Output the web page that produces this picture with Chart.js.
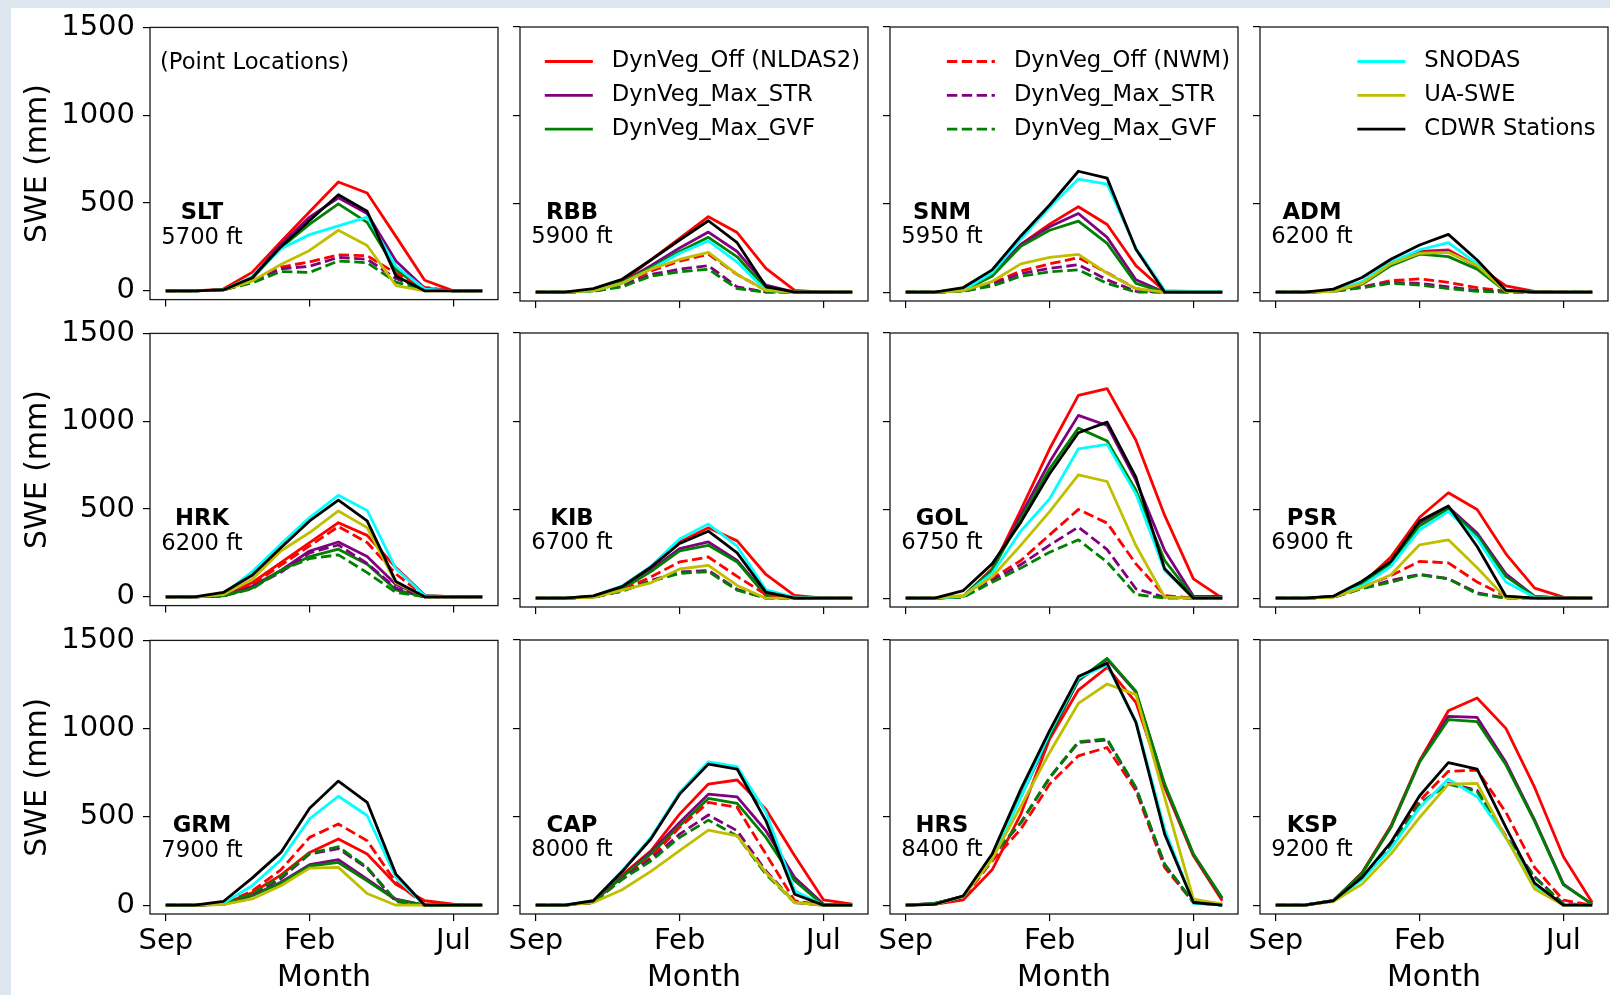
<!DOCTYPE html>
<html><head><meta charset="utf-8">
<script src="https://cdn.jsdelivr.net/npm/chart.js@4.4.1/dist/chart.umd.min.js"></script>
<style>
html,body{margin:0;padding:0;}
body{width:1610px;height:995px;background:#dde5ee;position:relative;overflow:hidden;}
#fig{position:absolute;left:11px;top:8px;width:1599px;height:987px;background:#fff;}
canvas{position:absolute;}
</style></head><body><div id="fig"></div>
<script>
const MONTHS = ['Sep','Oct','Nov','Dec','Jan','Feb','Mar','Apr','May','Jun','Jul','Aug'];
const MONTH_TICKS = [0, 5, 10];
const Y_TICKS = [0, 500, 1000, 1500];
const SERIES_LABELS = ['DynVeg_Off (NLDAS2)','DynVeg_Max_STR','DynVeg_Max_GVF',
  'DynVeg_Off (NWM)','DynVeg_Max_STR','DynVeg_Max_GVF','SNODAS','UA-SWE','CDWR Stations'];
const SERIES_COLORS = ['#ff0000','#800080','#008000','#ff0000','#800080','#008000','#00ffff','#bfbf00','#000000'];
const SERIES_DASHED = [false,false,false,true,true,true,false,false,false];
const STATIONS = ['SLT','RBB','SNM','ADM','HRK','KIB','GOL','PSR','GRM','CAP','HRS','KSP'];
const ELEVATIONS = [5700,5900,5950,6200,6200,6700,6750,6900,7900,8000,8400,9200];

// rows: NLDAS2 off, STR, GVF, NWM off, NWM STR, NWM GVF, SNODAS, UA-SWE, CDWR (Sep..Aug)
const SWE_SLT = [
  [0,0,10,105,280,450,620,557,310,60,0,0],
  [0,0,5,75,265,420,530,440,170,15,0,0],
  [0,0,5,70,245,380,495,390,120,5,0,0],
  [0,0,5,55,135,165,205,200,100,20,0,0],
  [0,0,5,50,125,140,190,180,70,10,0,0],
  [0,0,5,45,110,105,170,160,50,5,0,0],
  [0,0,5,80,240,320,370,420,140,10,0,0],
  [0,0,5,55,150,230,345,258,30,0,0,0],
  [0,0,5,74,250,400,547,453,85,0,0,0]];
const SWE_RBB = [
  [0,0,10,60,182,305,427,337,135,10,0,0],
  [0,0,10,55,150,250,340,230,40,0,0,0],
  [0,0,8,55,140,230,310,200,20,0,0,0],
  [0,0,5,40,120,175,215,100,10,0,0,0],
  [0,0,5,35,100,130,150,30,0,0,0,0],
  [0,0,5,30,90,115,130,20,0,0,0,0],
  [0,0,8,50,130,220,290,170,10,0,0,0],
  [0,0,8,50,130,185,225,100,10,0,0,0],
  [0,0,20,73,182,295,404,280,32,0,0,0]];
const SWE_SNM = [
  [0,0,10,100,270,385,483,383,150,5,0,0],
  [0,0,10,100,270,370,445,310,70,0,0,0],
  [0,0,8,90,260,350,402,276,50,0,0,0],
  [0,0,5,50,120,160,195,110,20,0,0,0],
  [0,0,5,45,105,135,155,70,5,0,0,0],
  [0,0,5,35,90,115,126,50,0,0,0,0],
  [0,0,10,110,300,480,640,611,250,10,5,5],
  [0,0,8,60,160,197,214,107,20,0,0,0],
  [0,0,26,126,318,493,684,645,243,0,0,0]];
const SWE_ADM = [
  [0,0,5,55,160,230,239,150,36,5,0,0],
  [0,0,5,55,155,225,230,145,10,0,0,0],
  [0,0,5,45,150,215,201,130,5,0,0,0],
  [0,0,5,30,65,75,55,25,5,0,0,0],
  [0,0,5,28,55,50,30,10,0,0,0,0],
  [0,0,5,25,50,40,20,5,0,0,0,0],
  [0,0,5,60,170,240,280,160,10,0,0,0],
  [0,0,5,50,160,220,225,150,5,0,0,0],
  [0,0,17,83,186,267,327,182,10,0,0,0]];
const SWE_HRK = [
  [0,0,10,80,195,309,422,350,167,10,0,0],
  [0,0,8,60,150,261,312,229,70,0,0,0],
  [0,0,5,50,150,229,271,186,40,0,0,0],
  [0,0,8,70,180,290,400,309,130,5,0,0],
  [0,0,5,55,140,250,295,190,50,0,0,0],
  [0,0,5,45,150,218,239,138,25,0,0,0],
  [0,0,15,142,300,451,578,492,161,6,0,0],
  [0,0,12,100,261,366,489,394,80,0,0,0],
  [0,0,25,123,280,432,551,432,87,0,0,0]];
const SWE_KIB = [
  [0,0,10,65,175,318,398,324,134,15,0,0],
  [0,0,8,55,160,280,318,214,20,0,0,0],
  [0,0,8,50,150,267,299,205,15,0,0,0],
  [0,0,5,45,120,205,233,123,20,0,0,0],
  [0,0,5,40,100,148,157,50,0,0,0,0],
  [0,0,5,40,95,140,150,45,0,0,0,0],
  [0,0,10,70,180,335,419,294,47,5,0,0],
  [0,0,5,45,87,165,186,72,0,0,0,0],
  [0,0,13,65,176,309,379,256,34,0,0,0]];
const SWE_GOL = [
  [0,0,11,166,500,845,1147,1185,893,468,109,0],
  [0,0,10,160,470,770,1034,977,666,270,11,10],
  [0,0,10,160,450,732,962,889,610,213,5,0],
  [0,0,8,110,213,358,502,425,194,15,0,0],
  [0,0,8,100,190,300,402,275,53,5,0,0],
  [0,0,5,90,170,260,330,204,21,0,0,0],
  [0,0,10,140,380,562,845,870,590,157,0,0],
  [0,0,15,120,300,490,698,660,298,6,0,0],
  [0,0,43,194,430,704,936,996,685,166,0,0]];
const SWE_PSR = [
  [0,0,9,81,232,458,596,502,251,57,6,0],
  [0,0,8,85,200,420,515,368,138,10,0,0],
  [0,0,8,85,195,410,506,355,123,10,0,0],
  [0,0,5,60,128,208,200,91,10,0,0,0],
  [0,0,5,55,100,135,110,30,0,0,0,0],
  [0,0,5,55,91,132,109,25,0,0,0,0],
  [0,0,8,70,180,387,491,336,91,5,0,0],
  [0,0,5,60,132,302,330,172,0,0,0,0],
  [0,0,11,96,208,436,521,292,11,0,0,0]];
const SWE_GRM = [
  [0,0,8,70,170,299,375,290,119,25,6,0],
  [0,0,5,55,130,229,258,148,34,0,0,0],
  [0,0,5,55,125,222,242,138,30,0,0,0],
  [0,0,8,80,200,384,460,365,129,5,0,0],
  [0,0,5,60,150,290,320,210,20,0,0,0],
  [0,0,5,65,160,294,331,214,25,0,0,0],
  [0,0,10,110,256,489,617,508,157,0,0,0],
  [0,0,3,35,110,210,214,66,0,0,0,0],
  [0,0,21,153,299,549,703,583,176,0,0,0]];
const SWE_CAP = [
  [0,0,20,170,307,515,685,708,543,279,30,6],
  [0,0,18,160,300,468,628,613,421,157,6,0],
  [0,0,18,160,290,449,604,576,383,138,0,0],
  [0,0,15,150,270,440,581,553,289,25,0,0],
  [0,0,15,150,260,402,510,421,194,15,0,0],
  [0,0,15,145,250,383,481,392,175,15,0,0],
  [0,0,25,194,383,638,811,783,525,81,0,0],
  [0,0,15,87,191,308,425,392,185,15,0,0],
  [0,0,25,190,374,628,798,770,477,62,0,0]];
const SWE_HRS = [
  [0,5,30,200,515,940,1217,1345,1147,666,279,25],
  [0,10,50,270,615,955,1270,1390,1205,680,285,38],
  [0,10,50,270,620,960,1274,1396,1210,685,289,40],
  [0,5,40,250,430,685,845,892,647,213,15,0],
  [0,5,45,275,465,720,920,935,662,230,15,0],
  [0,5,45,280,468,723,925,940,666,232,15,0],
  [0,5,50,260,610,975,1285,1360,1040,430,10,0],
  [0,5,50,260,560,864,1141,1251,1191,609,34,6],
  [0,5,53,289,657,987,1293,1368,1034,402,15,0]];
const SWE_KSP = [
  [0,0,25,185,449,817,1100,1172,1000,666,274,15],
  [0,0,25,180,440,811,1068,1062,808,481,119,5],
  [0,0,25,180,440,810,1049,1038,794,474,115,6],
  [0,0,25,150,340,591,757,764,525,213,28,0],
  [0,0,25,150,332,575,690,650,390,160,8,0],
  [0,0,25,150,330,572,685,643,383,157,6,0],
  [0,0,25,145,320,553,713,613,383,109,0,0],
  [0,0,20,119,289,496,685,689,383,91,0,0],
  [0,0,25,157,355,619,806,770,440,125,0,0]];
const SWE = [SWE_SLT,SWE_RBB,SWE_SNM,SWE_ADM,SWE_HRK,SWE_KIB,SWE_GOL,SWE_PSR,SWE_GRM,SWE_CAP,SWE_HRS,SWE_KSP];
const LEGEND_GROUPS = {1:[0,1,2], 2:[3,4,5], 3:[6,7,8]};

const FONT = '"DejaVu Sans", sans-serif';
const SMALL = '22.7px ' + FONT;
const COL_LEFT = [150, 520, 890, 1260];
const ROW_TOP = [27, 333, 640];
const PW = 348, PH = 274;

const decor = {
  id: 'decor',
  afterDraw(chart, args, opts) {
    const p = opts.panel;
    const ca = chart.chartArea;
    const ctx = chart.ctx;
    ctx.save();
    ctx.strokeStyle = '#1a1a1a';
    ctx.lineWidth = 1.3;
    ctx.setLineDash([]);
    ctx.strokeRect(ca.left, ca.top, ca.right - ca.left, ca.bottom - ca.top);
    ctx.fillStyle = '#000';
    ctx.textBaseline = 'middle';
    ctx.textAlign = 'center';
    ctx.font = 'bold ' + SMALL;
    ctx.fillText(STATIONS[p], ca.left + 52, ca.top + 186);
    ctx.font = SMALL;
    ctx.fillText(ELEVATIONS[p] + ' ft', ca.left + 52, ca.top + 210.5);
    if (p === 0) {
      ctx.textAlign = 'left';
      ctx.fillText('(Point Locations)', ca.left + 10, ca.top + 35.5);
    }
    const grp = LEGEND_GROUPS[p];
    if (grp) {
      ctx.font = SMALL;
      const maxW = Math.max(...grp.map(i => ctx.measureText(SERIES_LABELS[i]).width));
      const tx = ca.right - (p === 3 ? 12.5 : 8) - maxW;
      grp.forEach((i, k) => {
        const ds = chart.data.datasets[i];
        const y = ca.top + 34.5 + 33.8 * k;
        ctx.strokeStyle = ds.borderColor;
        ctx.lineWidth = ds.borderWidth;
        ctx.setLineDash(ds.borderDash || []);
        ctx.beginPath();
        ctx.moveTo(tx - 67, y);
        ctx.lineTo(tx - 19, y);
        ctx.stroke();
        ctx.setLineDash([]);
        ctx.textAlign = 'left';
        ctx.fillStyle = '#000';
        ctx.fillText(ds.label, tx, y);
      });
    }
    ctx.restore();
  }
};
Chart.register(decor);

for (let p = 0; p < 12; p++) {
  const r = Math.floor(p / 4), c = p % 4;
  const PL = c === 0 ? 145 : 30, PT = 25, PR = 2, PB = r === 2 ? 82 : 24;
  const cv = document.createElement('canvas');
  cv.width = PW + PL + PR; cv.height = PH + PT + PB;
  cv.style.left = (COL_LEFT[c] - PL) + 'px';
  cv.style.top = (ROW_TOP[r] - PT) + 'px';
  cv.style.width = cv.width + 'px'; cv.style.height = cv.height + 'px';
  document.body.appendChild(cv);
  const datasets = SWE[p].map((vals, i) => ({
    label: SERIES_LABELS[i],
    data: vals.map((v, m) => ({x: m, y: v})),
    borderColor: SERIES_COLORS[i],
    backgroundColor: SERIES_COLORS[i],
    borderWidth: 2.8,
    borderDash: SERIES_DASHED[i] ? [10.4, 4.5] : [],
    borderJoinStyle: 'round',
    pointRadius: 0,
    fill: false,
    tension: 0,
    order: -i
  }));
  new Chart(cv, {
    type: 'line',
    data: {datasets},
    options: {
      responsive: false, animation: false, devicePixelRatio: 1,
      events: [],
      layout: {padding: {top: PT, right: PR, bottom: 0, left: 0}},
      plugins: {legend: {display: false}, tooltip: {enabled: false}, decor: {panel: p}},
      scales: {
        x: {
          type: 'linear', min: -0.55, max: 11.55,
          afterBuildTicks: s => { s.ticks = MONTH_TICKS.map(v => ({value: v})); },
          afterFit: s => { s.height = PB; },
          ticks: {display: r === 2, autoSkip: false, maxRotation: 0, padding: 3, color: '#000',
                  font: {family: FONT, size: 29}, callback: v => MONTHS[v]},
          grid: {drawOnChartArea: false, drawTicks: true, tickLength: 7, color: '#000', lineWidth: 1.2},
          border: {display: false},
          title: {display: r === 2, text: 'Month', color: '#000', font: {family: FONT, size: 30},
                  padding: {top: 0, bottom: 0}}
        },
        y: {
          min: -50, max: 1500,
          afterBuildTicks: s => { s.ticks = Y_TICKS.map(v => ({value: v})); },
          afterFit: s => { s.width = PL; },
          ticks: {display: c === 0, padding: 8, color: '#000', font: {family: FONT, size: 29},
                  callback: v => String(v)},
          grid: {drawOnChartArea: false, drawTicks: true, tickLength: 7, color: '#000', lineWidth: 1.2},
          border: {display: false},
          title: {display: c === 0, text: 'SWE (mm)', color: '#000', font: {family: FONT, size: 30},
                  padding: {top: 15, bottom: 0}}
        }
      }
    }
  });
}
</script></body></html>
